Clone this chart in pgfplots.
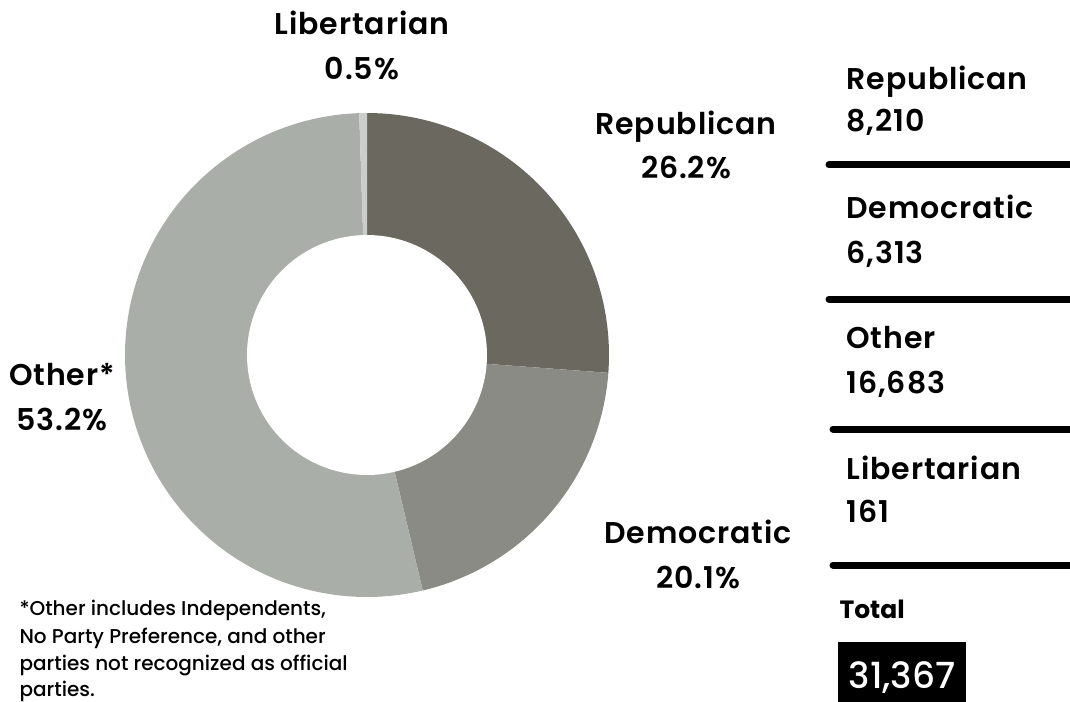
\documentclass[border=0pt]{standalone}
\usepackage{pgfplots}
\pgfplotsset{compat=1.18}
\usepackage{fontspec}
\setmainfont{Poppins}[UprightFont=* Medium, BoldFont=* Bold]
\newfontfamily\labfont{Poppins SemiBold}[LetterSpace=3]
\definecolor{cRep}{HTML}{6B6860}
\definecolor{cDem}{HTML}{8A8B85}
\definecolor{cOth}{HTML}{AAAEA9}
\definecolor{cLib}{HTML}{C9CECB}
\newcommand\lab{\labfont\fontsize{30bp}{32bp}\selectfont}
\newcommand\foot{\fontsize{20bp}{22bp}\selectfont}
% counts
\def\nRep{8210}
\def\nDem{6313}
\def\nOth{16683}
\def\nLib{161}
\edef\tot{\fpeval{\nRep+\nDem+\nOth+\nLib}}
\edef\aA{90}
\edef\aB{\fpeval{round(\aA-360*\nRep/\tot,3)}}
\edef\aC{\fpeval{round(\aB-360*\nDem/\tot,3)}}
\edef\aD{\fpeval{round(\aC-360*\nOth/\tot,3)}}
\edef\aE{\fpeval{round(\aD-360*\nLib/\tot,3)}}
\begin{document}
\begin{tikzpicture}
\useasboundingbox (0,0) rectangle (1070bp,702bp);
\begin{axis}[
  at={(0,0)}, anchor=south west,
  width=1070bp, height=702bp, scale only axis,
  xmin=0, xmax=1070, ymin=0, ymax=702, y dir=reverse,
  hide axis, clip=false,
]
% donut slices
\addplot[fill=cRep, draw=none, domain=\aB:\aA, samples=100] ({367+242*cos(x)},{355-242*sin(x)}) -- (axis cs:367,355) -- cycle;
\addplot[fill=cDem, draw=none, domain=\aC:\aB, samples=100] ({367+242*cos(x)},{355-242*sin(x)}) -- (axis cs:367,355) -- cycle;
\addplot[fill=cOth, draw=none, domain=\aD:\aC, samples=160] ({367+242*cos(x)},{355-242*sin(x)}) -- (axis cs:367,355) -- cycle;
\addplot[fill=cLib, draw=none, domain=\aE:\aD, samples=10] ({367+242*cos(x)},{355-242*sin(x)}) -- (axis cs:367,355) -- cycle;
\addplot[fill=white, draw=none, domain=0:360, samples=160] ({367+120*cos(x)},{355-120*sin(x)}) -- cycle;
% slice labels
\node[anchor=base] at (axis cs:362,35) {\lab Libertarian};
\node[anchor=base] at (axis cs:362,80) {\lab 0.5\%};
\node[anchor=base] at (axis cs:686,135) {\lab Republican};
\node[anchor=base] at (axis cs:686,178) {\lab 26.2\%};
\node[anchor=base] at (axis cs:698,543) {\lab Democratic};
\node[anchor=base] at (axis cs:698,588) {\lab 20.1\%};
\node[anchor=base] at (axis cs:62,385) {\lab Other*};
\node[anchor=base] at (axis cs:62,430) {\lab 53.2\%};
% right list
\node[anchor=base west] at (axis cs:843,90) {\lab Republican};
\node[anchor=base west] at (axis cs:843,132) {\lab 8,210};
\node[anchor=base west] at (axis cs:843,218) {\lab Democratic};
\node[anchor=base west] at (axis cs:843,263) {\lab 6,313};
\node[anchor=base west] at (axis cs:843,348) {\lab Other};
\node[anchor=base west] at (axis cs:843,393) {\lab 16,683};
\node[anchor=base west] at (axis cs:843,479) {\lab Libertarian};
\node[anchor=base west] at (axis cs:843,522) {\lab 161};
\addplot[black, line width=7bp, line cap=round] coordinates {(829,165) (1085,165)};
\addplot[black, line width=7bp, line cap=round] coordinates {(829,299) (1085,299)};
\addplot[black, line width=7bp, line cap=round] coordinates {(833,429) (1085,429)};
\addplot[black, line width=7bp, line cap=round] coordinates {(833,565) (1085,565)};
\node[anchor=base west] at (axis cs:836,618) {\fontsize{25bp}{27bp}\selectfont\bfseries Total};
\addplot[fill=black, draw=none] coordinates {(838,642) (966,642) (966,712) (838,712)} -- cycle;
\node[anchor=base, text=white] at (axis cs:902,688) {\fontsize{36bp}{38bp}\selectfont 31,367};
% footnote
\node[anchor=base west] at (axis cs:16,615) {\foot *Other includes Independents,};
\node[anchor=base west] at (axis cs:16,643) {\foot No Party Preference, and other};
\node[anchor=base west] at (axis cs:16,670) {\foot parties not recognized as official};
\node[anchor=base west] at (axis cs:16,696) {\foot parties.};
\end{axis}
\end{tikzpicture}
\end{document}
